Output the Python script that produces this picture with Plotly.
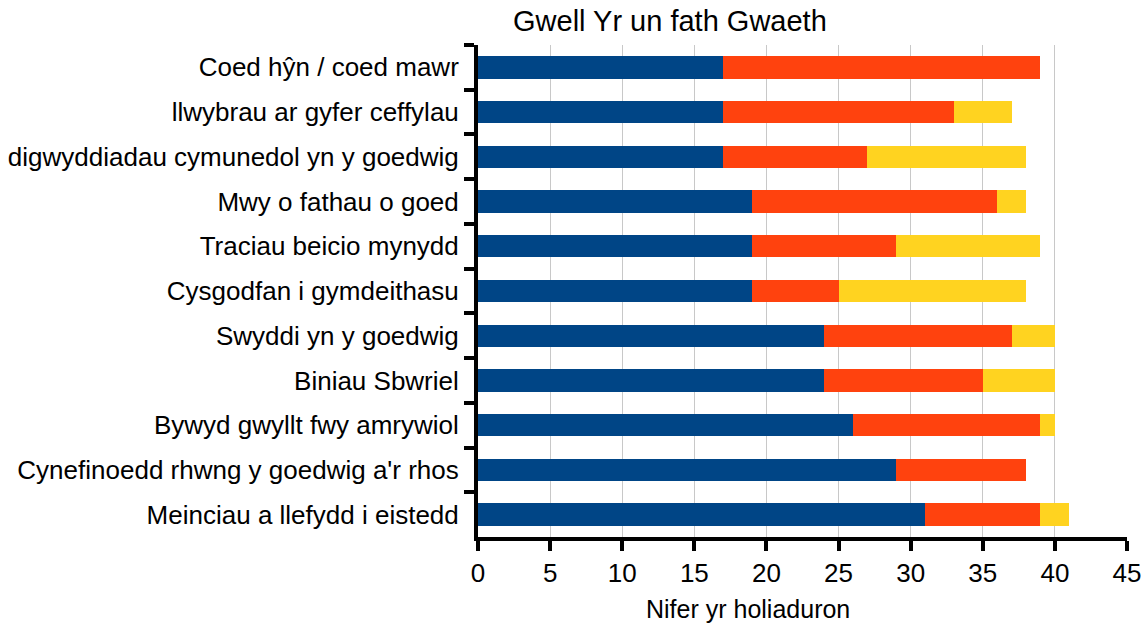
import plotly.graph_objects as go

categories = [
    "Coed hŷn / coed mawr",
    "llwybrau ar gyfer ceffylau",
    "digwyddiadau cymunedol yn y goedwig",
    "Mwy o fathau o goed",
    "Traciau beicio mynydd",
    "Cysgodfan i gymdeithasu",
    "Swyddi yn y goedwig",
    "Biniau Sbwriel",
    "Bywyd gwyllt fwy amrywiol",
    "Cynefinoedd rhwng y goedwig a'r rhos",
    "Meinciau a llefydd i eistedd",
]
gwell = [17, 17, 17, 19, 19, 19, 24, 24, 26, 29, 31]
yr_un_fath = [22, 16, 10, 17, 10, 6, 13, 11, 13, 9, 8]
gwaeth = [0, 4, 11, 2, 10, 13, 3, 5, 1, 0, 2]

series = [("Gwell", gwell, "#004586"), ("Yr un fath", yr_un_fath, "#ff420e"), ("Gwaeth", gwaeth, "#ffd320")]

L, R, T, B = 478, 1127, 45, 537
W, H = 1144, 626

fig = go.Figure()
for name, vals, col in series:
    fig.add_trace(go.Bar(y=categories, x=vals, name=name, orientation="h",
                         marker=dict(color=col, line=dict(width=0))))

def px_x(x):
    return (x - L) / (R - L)

def px_y(y):
    return (B - y) / (B - T)

fig.update_layout(
    barmode="stack",
    bargap=0.5,
    width=W, height=H,
    margin=dict(l=L, r=W - R, t=T, b=H - B, autoexpand=False),
    plot_bgcolor="white", paper_bgcolor="white",
    showlegend=False,
    font=dict(family="Liberation Sans, Arial, sans-serif", size=26, color="black"),
    annotations=[
        dict(text="Gwell Yr un fath Gwaeth", x=px_x(670), y=px_y(21), xref="paper", yref="paper",
             showarrow=False, xanchor="center", yanchor="middle", font=dict(size=29)),
        dict(text="Nifer yr holiaduron", x=px_x(748), y=px_y(609), xref="paper", yref="paper",
             showarrow=False, xanchor="center", yanchor="middle", font=dict(size=25)),
    ],
)
fig.update_xaxes(range=[0, 45], dtick=5, showgrid=True, gridcolor="#c8c8c8", gridwidth=1,
                 showline=True, linecolor="black", linewidth=4, ticks="outside", ticklen=10,
                 tickwidth=4, tickcolor="black", zeroline=False, automargin=False,
                 ticklabelstandoff=0)
fig.update_yaxes(autorange="reversed", showline=True, linecolor="black", linewidth=4,
                 ticks="outside", ticklen=10, tickwidth=4, tickcolor="black",
                 tickson="boundaries", showgrid=False, ticklabelstandoff=10, automargin=False)

fig.write_html("out.html", config={"displayModeBar": False},
               post_script="document.body.style.margin='0';document.body.style.overflow='hidden';")
